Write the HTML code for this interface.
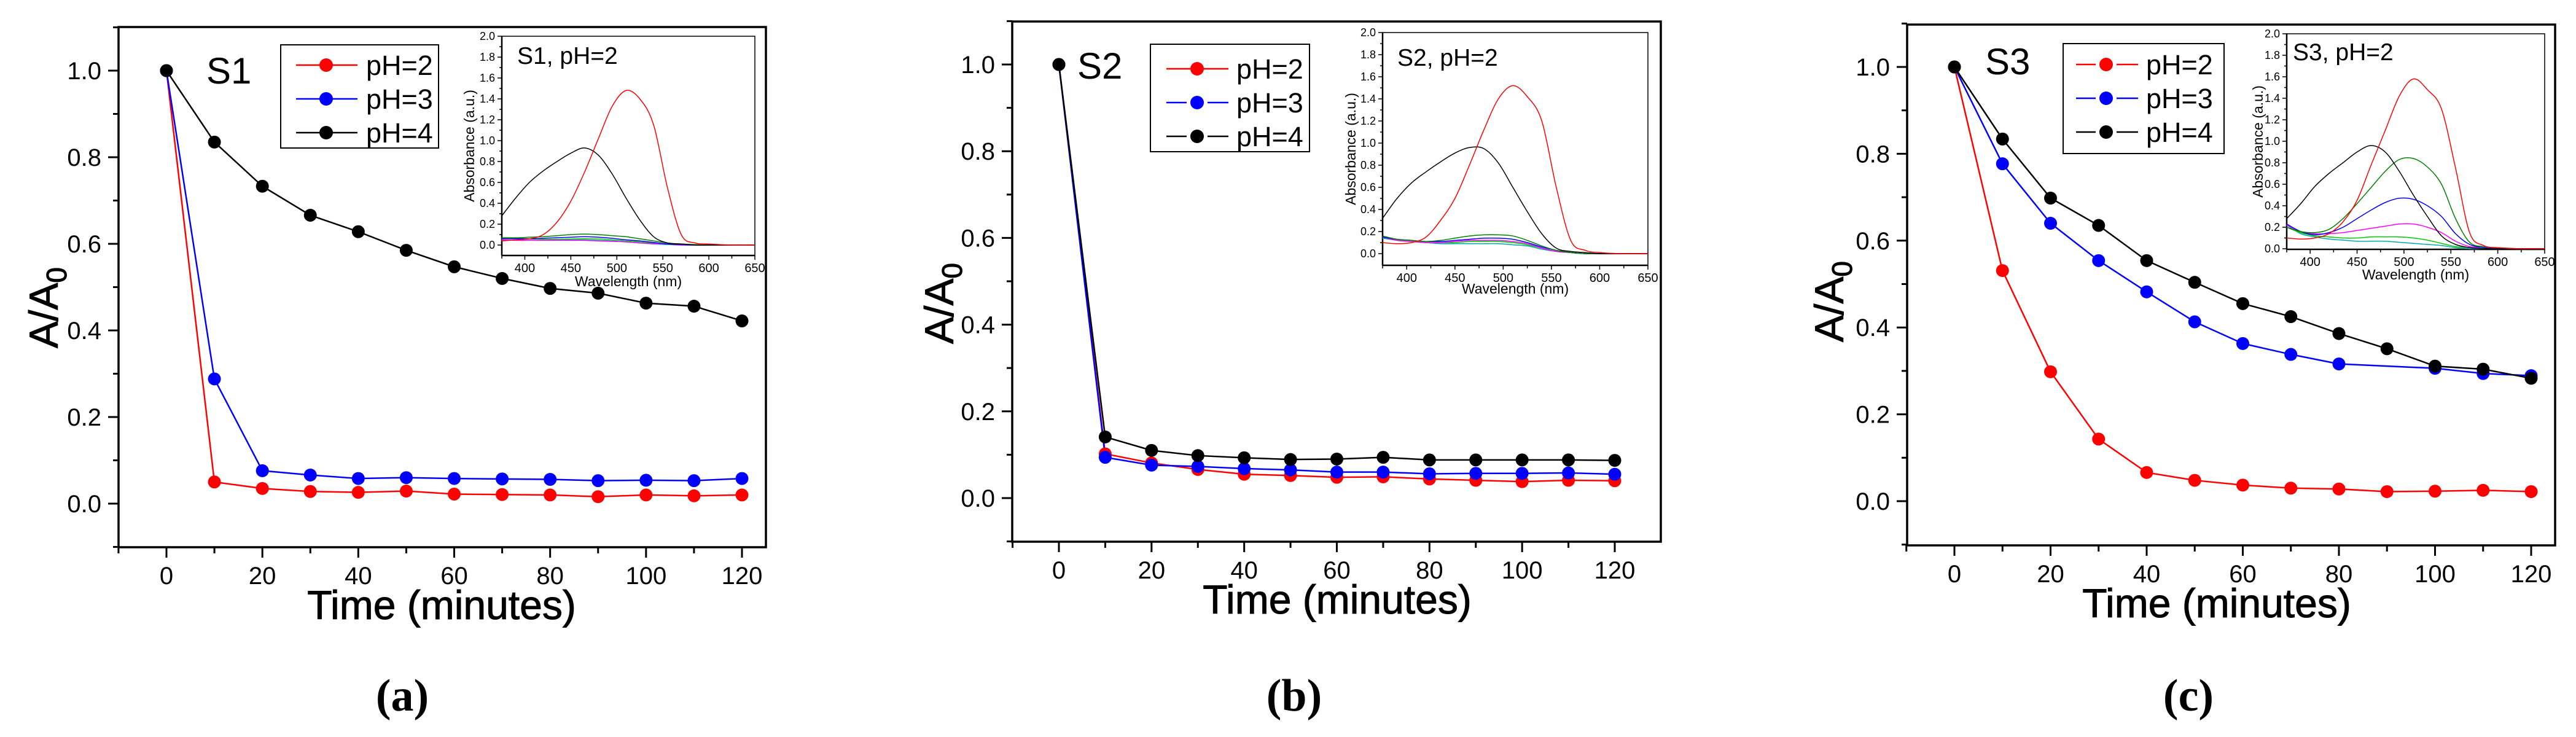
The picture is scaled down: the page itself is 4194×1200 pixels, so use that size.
<!DOCTYPE html>
<html><head><meta charset="utf-8">
<style>
html,body{margin:0;padding:0;background:#fff;}
svg{display:block;}
text{font-family:"Liberation Sans",Arial,sans-serif;fill:#000;}
.cap{font-family:"Liberation Serif",serif;font-weight:bold;}
</style></head>
<body>
<svg id="fig" width="4194" height="1200" viewBox="0 0 4194 1200" xmlns="http://www.w3.org/2000/svg"></svg>
<script>
// ---- data ----
const times = [0,10,20,30,40,50,60,70,80,90,100,110,120];
const seriesNames = ["pH=2","pH=3","pH=4"];
const seriesColors = ["#ff0000","#0000ff","#000000"];
const s1_ph2 = [1,0.05,0.035,0.028,0.026,0.029,0.022,0.021,0.02,0.016,0.02,0.018,0.02];
const s1_ph3 = [1,0.288,0.076,0.066,0.058,0.06,0.058,0.057,0.056,0.053,0.054,0.053,0.058];
const s1_ph4 = [1,0.835,0.733,0.666,0.628,0.585,0.547,0.52,0.497,0.486,0.463,0.456,0.422];
const s2_ph2 = [1,0.102,0.081,0.066,0.055,0.052,0.048,0.049,0.044,0.041,0.038,0.041,0.04];
const s2_ph3 = [1,0.094,0.076,0.073,0.068,0.065,0.06,0.06,0.056,0.057,0.057,0.058,0.055];
const s2_ph4 = [1,0.141,0.11,0.098,0.093,0.089,0.09,0.094,0.088,0.088,0.088,0.088,0.087];
const s3_ph2 = [1,0.531,0.298,0.143,0.066,0.048,0.037,0.03,0.028,0.022,0.023,0.025,0.022];
const s3_ph3 = [1,0.777,0.64,0.554,0.482,0.413,0.363,0.338,0.316,null,0.306,0.294,0.289];
const s3_ph4 = [1,0.834,0.698,0.635,0.554,0.504,0.455,0.425,0.386,0.351,0.311,0.304,0.283];
const xTickLabels = ["0","20","40","60","80","100","120"];
const yTickLabels = ["0.0","0.2","0.4","0.6","0.8","1.0"];
// inset spectra (wavelength grid + absorbance)
const specWl = [375,390,405,420,435,450,465,480,495,510,525,540,555,570,585,600,625,650];
const inXTicks = ["400","450","500","550","600","650"];
const inYTicks = ["0.0","0.2","0.4","0.6","0.8","1.0","1.2","1.4","1.6","1.8","2.0"];
const specColors = ["#ff0000","#000000","#008000","#0000ff","#ff00ff","#00cc00","#00aaaa"];
const a_red=[.04,.05,.06,.1,.22,.42,.7,1.02,1.33,1.48,1.4,1.15,.55,.1,.02,.01,0,0];
const a_blk=[.28,.45,.6,.71,.8,.88,.93,.86,.68,.45,.24,.08,.02,.01,0,0,0,0];
const a_grn=[.07,.07,.075,.08,.09,.1,.105,.1,.09,.08,.06,.04,.02,.01,.005,0,0,0];
const a_blu=[.06,.06,.06,.065,.07,.075,.08,.075,.065,.05,.04,.025,.01,.005,0,0,0,0];
const a_mag=[.05,.045,.045,.045,.045,.045,.045,.04,.035,.03,.02,.015,.01,0,0,0,0,0];
const a_lgr=[.06,.06,.058,.055,.055,.058,.06,.058,.05,.04,.03,.02,.01,0,0,0,0,0];
const a_cya=[.07,.065,.06,.055,.05,.05,.05,.045,.04,.03,.02,.01,.005,0,0,0,0,0];
const b_red=[.1,.09,.1,.15,.3,.5,.8,1.12,1.4,1.52,1.42,1.2,.6,.12,.03,.01,0,0];
const b_blk=[.32,.5,.64,.74,.83,.91,.96,.95,.82,.6,.38,.18,.05,.02,.01,0,0,0];
const b_grn=[.16,.13,.12,.11,.12,.14,.16,.17,.17,.16,.12,.07,.03,.01,0,0,0,0];
const b_blu=[.15,.13,.12,.11,.11,.12,.13,.14,.14,.13,.1,.06,.03,.01,0,0,0,0];
const b_mag=[.15,.12,.11,.1,.1,.11,.12,.12,.12,.11,.09,.05,.02,.01,0,0,0,0];
const b_lgr=[.15,.12,.11,.1,.1,.1,.11,.11,.11,.1,.08,.05,.02,.01,0,0,0,0];
const b_cya=[.14,.12,.11,.1,.09,.09,.09,.09,.09,.08,.07,.04,.02,.01,0,0,0,0];
const c_red=[.1,.09,.1,.14,.25,.45,.78,1.1,1.42,1.58,1.48,1.3,.75,.15,.03,.01,0,0];
const c_blk=[.28,.42,.58,.7,.8,.9,.96,.9,.72,.5,.3,.12,.04,.01,0,0,0,0];
const c_grn=[.2,.16,.15,.18,.28,.42,.57,.72,.83,.84,.76,.6,.28,.06,.02,.01,0,0];
const c_blu=[.23,.16,.13,.15,.2,.28,.36,.43,.47,.46,.4,.3,.14,.04,.01,0,0,0];
const c_mag=[.22,.16,.14,.14,.15,.17,.19,.21,.23,.23,.2,.15,.07,.02,.01,0,0,0];
const c_lgr=[.2,.15,.12,.11,.1,.1,.11,.11,.11,.1,.08,.05,.02,.01,0,0,0,0];
const c_cya=[.22,.14,.11,.09,.08,.07,.07,.07,.06,.05,.04,.03,.01,0,0,0,0,0];

const NS="http://www.w3.org/2000/svg";
const svg=document.getElementById('fig');
function mk(tag,attrs,parent){const e=document.createElementNS(NS,tag);for(const k in attrs)e.setAttribute(k,attrs[k]);(parent||svg).appendChild(e);return e;}
function smooth(pts){let d="M"+pts[0][0]+","+pts[0][1];for(let i=0;i<pts.length-1;i++){const p0=pts[i-1]||pts[i],p1=pts[i],p2=pts[i+1],p3=pts[i+2]||p2;
const c1x=p1[0]+(p2[0]-p0[0])/6,c1y=p1[1]+(p2[1]-p0[1])/6,c2x=p2[0]-(p3[0]-p1[0])/6,c2y=p2[1]-(p3[1]-p1[1])/6;
d+=" C"+c1x+","+c1y+" "+c2x+","+c2y+" "+p2[0]+","+p2[1];}return d;}

function panel(cfg){
  const g=mk('g',{});
  
  
  const L=cfg.L,R=cfg.R,Tp=cfg.T,B=cfg.B;
  const xs=v=>cfg.x0+(cfg.x120-cfg.x0)*v/120;
  const ys=v=>cfg.y0+(cfg.y1-cfg.y0)*v;
  const fr=mk('rect',{x:L,y:Tp,width:R-L,height:B-Tp,fill:'none',stroke:'#000','stroke-width':3.5},g);
  
  // y ticks
  for(let i=-1;i<=11;i++){const v=i/10,y=ys(v);const major=i%2===0;
    mk('line',{x1:L-(major?17:9),x2:L,y1:y,y2:y,stroke:'#000','stroke-width':3},g);}
  yTickLabels.forEach((lab,i)=>{const t=mk('text',{x:L-28,y:ys(i*0.2)+14,'font-size':40,'text-anchor':'end'},g);t.textContent=lab;
    });
  for(let v=-10;v<=120;v+=10){const x=xs(v);const major=v%20===0;mk('line',{x1:x,x2:x,y1:B,y2:B+(major?17:10),stroke:'#000','stroke-width':3},g);}
  xTickLabels.forEach(lab=>{const t=mk('text',{x:xs(+lab),y:B+60,'font-size':40,'text-anchor':'middle'},g);t.textContent=lab;
    });
  const xt=mk('text',{x:cfg.tx,y:B+117,'font-size':66,'text-anchor':'middle','stroke':'#000','stroke-width':1},g);xt.textContent="Time (minutes)";
  
  const yt=mk('text',{x:0,y:0,'font-size':66,'transform':`translate(${cfg.ax},${cfg.ay}) rotate(-90)`,'stroke':'#000','stroke-width':1},g);
  yt.innerHTML='A/A<tspan font-size="46" dy="14">0</tspan>';
  
  const st=mk('text',{x:cfg.sx,y:cfg.sy,'font-size':60},g);st.textContent=cfg.label;
  
  const cp=mk('text',{x:cfg.cx,y:1157,'font-size':74,'text-anchor':'middle','class':'cap'},g);cp.textContent=cfg.caption;
  
  // series
  cfg.series.forEach((arr,si)=>{
    const pts=[];arr.forEach((v,i)=>{if(v!==null)pts.push([xs(times[i]),ys(v)]);});
    const pl=mk('polyline',{points:pts.map(p=>p.join(',')).join(' '),fill:'none',stroke:seriesColors[si],'stroke-width':2.5},g);
    
  });
  cfg.series.forEach((arr,si)=>{
    arr.forEach((v,i)=>{if(v===null)return;const c=mk('circle',{cx:xs(times[i]),cy:ys(v),r:10.5,fill:seriesColors[si]},g);
      });
  });
  // legend
  const lg=cfg.leg;
  const lgG=mk('g',{},g);
  mk('rect',{x:lg.x1,y:lg.y1,width:lg.x2-lg.x1,height:lg.y2-lg.y1,fill:'#fff',stroke:'#000','stroke-width':2},lgG);
  seriesNames.forEach((n,si)=>{const y=lg.rows[si];
    const gap=cfg.gap&&(si>0||cfg.gapAll)?17:0;
    mk('line',{x1:lg.l1,x2:lg.m-gap,y1:y,y2:y,stroke:seriesColors[si],'stroke-width':2.5},lgG);
    mk('line',{x1:lg.m+gap,x2:lg.l2,y1:y,y2:y,stroke:seriesColors[si],'stroke-width':2.5},lgG);
    mk('circle',{cx:lg.m,cy:y,r:11,fill:seriesColors[si]},lgG);
    const t=mk('text',{x:lg.tx,y:y+16,'font-size':45},lgG);t.textContent=n;
    });
  // inset
  const I=cfg.ins;
  const iG=mk('g',{},g);
  const ix=w=>I.L+(I.R-I.L)*(w-375)/275;
  const iy=v=>I.y0+(I.T-I.y0)*v/2;
  mk('rect',{x:I.L,y:I.T,width:I.R-I.L,height:I.B-I.T,fill:'#fff',stroke:'#000','stroke-width':1.5},iG);
  mk('line',{x1:I.L,x2:I.L,y1:I.T,y2:I.B,stroke:'#000','stroke-width':2.5},iG);
  mk('line',{x1:I.L,x2:I.R,y1:I.B,y2:I.B,stroke:'#000','stroke-width':2.5},iG);
  for(let i=0;i<=20;i++){const y=iy(i/10);mk('line',{x1:I.L-(i%2?4:7),x2:I.L,y1:y,y2:y,stroke:'#000','stroke-width':1.5},iG);}
  inYTicks.forEach(l=>{const t=mk('text',{x:I.L-11,y:iy(+l)+6,'font-size':18,'text-anchor':'end'},iG);t.textContent=l;});
  for(let w=375;w<=650;w+=25){const x=ix(w);mk('line',{x1:x,x2:x,y1:I.B,y2:I.B+(w%50===0?7:5),stroke:'#000','stroke-width':1.5},iG);}
  inXTicks.forEach(l=>{const t=mk('text',{x:ix(+l),y:I.B+27,'font-size':20,'text-anchor':'middle'},iG);t.textContent=l;});
  const wt=mk('text',{x:(I.L+I.R)/2,y:I.wy,'font-size':23,'text-anchor':'middle'},iG);wt.textContent="Wavelength (nm)";
  
  const at=mk('text',{x:0,y:0,'font-size':23,'text-anchor':'middle','transform':`translate(${I.abx},${(I.T+I.B)/2}) rotate(-90)`},iG);at.textContent="Absorbance (a.u.)";
  
  const tt=mk('text',{x:I.tx,y:I.ty,'font-size':39},iG);tt.textContent=cfg.label+", pH=2";
  
  I.curves.slice().reverse().forEach((arr,ri)=>{const ci=I.curves.length-1-ri;
    const pts=arr.map((v,i)=>[ix(specWl[i]),iy(v)]);
    const p=mk('path',{d:smooth(pts),fill:'none',stroke:specColors[ci],'stroke-width':1.5},iG);
    });
}

panel({name:'panel-a',label:'S1',caption:'(a)',L:193,R:1247,T:44,B:891,x0:271,x120:1208,y0:820,y1:115,
  tx:719,ax:94,ay:567,sx:336,sy:136,cx:655,gap:false,
  series:[s1_ph2,s1_ph3,s1_ph4],
  leg:{x1:457,x2:714,y1:73,y2:241,rows:[106,161,216],l1:482,l2:582,m:531,tx:596},
  ins:{L:817,R:1229,T:59,y0:399,B:416,wy:466,abx:772,tx:842,ty:104,curves:[a_red,a_blk,a_grn,a_blu,a_mag,a_lgr,a_cya]}});
panel({name:'panel-b',label:'S2',caption:'(b)',L:1648,R:2704,T:35,B:882,x0:1724,x120:2629,y0:811,y1:105,
  tx:2177,ax:1552,ay:560,sx:1754,sy:128,cx:2107,gap:true,
  series:[s2_ph2,s2_ph3,s2_ph4],
  leg:{x1:1873,x2:2132,y1:72,y2:247,rows:[112,167,222],l1:1899,l2:2000,m:1949,tx:2013},
  ins:{L:2251,R:2683,T:53,y0:413,B:432,wy:478,abx:2207,tx:2275,ty:107,curves:[b_red,b_blk,b_grn,b_blu,b_mag,b_lgr,b_cya]}});
panel({name:'panel-c',label:'S3',caption:'(c)',L:3105,R:4160,T:40,B:888,x0:3182,x120:4121,y0:816,y1:109,
  tx:3609,ax:3001,ay:557,sx:3232,sy:121,cx:3563,gap:true,gapAll:true,
  series:[s3_ph2,s3_ph3,s3_ph4],
  leg:{x1:3359,x2:3621,y1:71,y2:250,rows:[105,160,215],l1:3380,l2:3481,m:3429,tx:3494},
  ins:{L:3723,R:4143,T:55,y0:405,B:406,wy:455,abx:3684,tx:3733,ty:98,curves:[c_red,c_blk,c_grn,c_blu,c_mag,c_lgr,c_cya]}});
</script>
</body></html>
